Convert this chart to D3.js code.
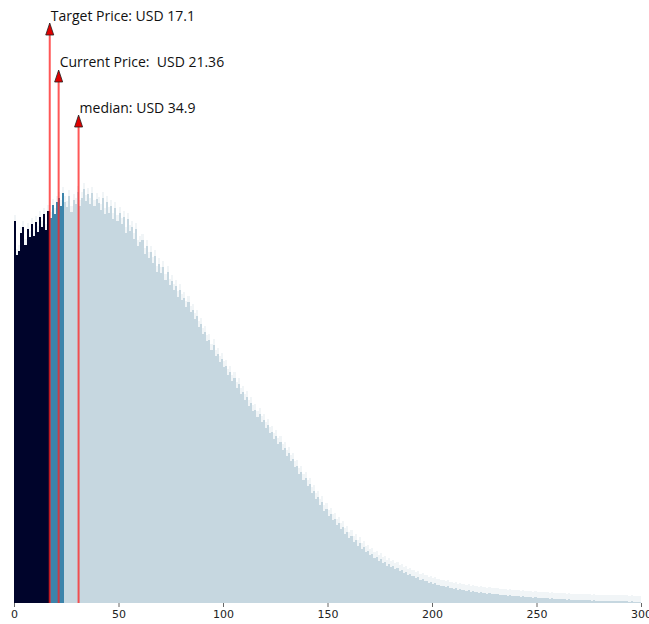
<!DOCTYPE html>
<html>
<head>
<meta charset="utf-8">
<script src="https://cdn.jsdelivr.net/npm/d3@7"></script>
<style>
  body { margin: 0; background: #fff; }
  .tick text { font-family: "DejaVu Sans", sans-serif; font-size: 11px; fill: #222; }
  .tick line { stroke: #666; }
  .note { font-family: "Open Sans", sans-serif; font-size: 14px; fill: #111; white-space: pre; }
  .bars rect { shape-rendering: crispEdges; }
</style>
</head>
<body>
<svg id="chart"></svg>
<script>
// histogram bins: one bin per USD, starting at 0
const binStart = d3.range(0, 300);
const binCounts = [
  382, 348, 352, 370, 376, 358, 374, 366, 379, 367,
  381, 371, 386, 376, 389, 373, 392, 385, 398, 389,
  401, 405, 397, 410, 401, 396, 407, 391, 403, 399,
  411, 397, 405, 414, 402, 409, 399, 410, 397, 404,
  400, 393, 405, 389, 401, 390, 397, 384, 395, 382,
  390, 379, 386, 370, 384, 372, 376, 364, 374, 357,
  361, 363, 349, 357, 345, 351, 340, 347, 331, 339,
  330, 336, 323, 331, 318, 322, 313, 317, 306, 313,
  303, 305, 296, 301, 291, 293, 284, 287, 276, 279,
  269, 271, 262, 263, 253, 258, 247, 249, 241, 244,
  236, 237, 228, 231, 222, 225, 215, 219, 209, 211,
  203, 206, 197, 200, 192, 193, 186, 189, 181, 183,
  175, 178, 170, 171, 164, 167, 159, 161, 153, 155,
  147, 150, 142, 144, 136, 137, 129, 131, 123, 125,
  117, 119, 110, 112, 104, 106, 98, 101, 92, 94,
  87, 89, 83, 84, 78, 80, 74, 76, 69, 71,
  65, 67, 61, 63, 57, 60, 54, 56, 51, 52,
  48, 49, 45, 46, 42, 44, 40, 41, 37, 39,
  36, 37, 34, 35, 32, 33, 30, 31, 28, 29,
  27, 27, 25, 26, 23, 24, 22, 22, 20, 21,
  19, 20, 18, 18, 17, 17, 16, 17, 15, 15,
  14, 15, 13, 14, 13, 13, 12, 13, 11, 12,
  11, 11, 10, 11, 10, 10, 9, 10, 9, 9,
  9, 9, 8, 8, 8, 8, 7, 8, 7, 7,
  7, 7, 6, 7, 6, 6, 6, 6, 5, 6,
  5, 5, 5, 5, 5, 5, 4, 5, 4, 4,
  4, 4, 4, 4, 3, 4, 3, 3, 3, 3,
  3, 3, 3, 3, 3, 3, 2, 3, 2, 2,
  2, 2, 2, 2, 2, 2, 2, 2, 2, 2,
  2, 2, 2, 2, 1, 2, 1, 1, 1, 1
];
const xTicks = [0, 50, 100, 150, 200, 250, 300];

// price markers
const markerLabels = ["Target Price: USD 17.1", "Current Price:  USD 21.36", "median: USD 34.9"];
const markerPos = [17.1, 21.36, 30.9];

const targetPrice = 17;
const bandEnd = 24;

const width = 649, height = 624;
const margin = { top: 10, right: 8, bottom: 21, left: 14 };
const baseY = height - margin.bottom;

const svg = d3.select("#chart").attr("width", width).attr("height", height);

const x = d3.scaleLinear().domain([0, 300]).range([margin.left, width - margin.right]);
const y = d3.scaleLinear().domain([0, 400]).range([baseY, baseY - 400]);

const colour = b => b < targetPrice ? "#00042b" : b < bandEnd ? "#3c84ab" : "#c6d7e0";
// snap bin edges to whole pixels so neighbours neither gap nor overlap
const bx = b => Math.round(x(b));
const bw = b => Math.round(x(b + 1)) - Math.round(x(b));
const barTop = i => Math.round(y(binCounts[i]));

// soft halo on the bar tops
svg.append("g")
  .attr("class", "bars")
  .selectAll("rect")
  .data(binStart)
  .join("rect")
  .attr("x", bx)
  .attr("width", bw)
  .attr("y", (b, i) => barTop(i) - 6)
  .attr("height", 6)
  .attr("fill", "#c6d7e0")
  .attr("opacity", 0.25);

svg.append("g")
  .attr("class", "bars")
  .selectAll("rect")
  .data(binStart)
  .join("rect")
  .attr("x", bx)
  .attr("width", bw)
  .attr("y", (b, i) => barTop(i))
  .attr("height", (b, i) => baseY - barTop(i))
  .attr("fill", colour);

// x axis
const axis = svg.append("g")
  .attr("transform", `translate(0, ${baseY})`)
  .call(d3.axisBottom(x).tickValues(xTicks).tickSize(4).tickPadding(3));
axis.select(".domain").remove();

// markers
const tipY = [23, 70, 115];
const textY = [21, 67, 113];
const mk = svg.append("g");
markerPos.forEach((v, i) => {
  const px = x(v);
  mk.append("line")
    .attr("x1", px).attr("x2", px)
    .attr("y1", tipY[i] + 10).attr("y2", baseY)
    .attr("stroke", "#ff2020")
    .attr("stroke-opacity", 0.75)
    .attr("stroke-width", 2);
  mk.append("path")
    .attr("d", `M${px},${tipY[i]} L${px - 4},${tipY[i] + 12} L${px + 4},${tipY[i] + 12} Z`)
    .attr("fill", "#e00000")
    .attr("stroke", "#222")
    .attr("stroke-width", 0.8);
  mk.append("text")
    .attr("class", "note")
    .attr("x", px + 1)
    .attr("y", textY[i])
    .text(markerLabels[i]);
});
</script>
</body>
</html>
